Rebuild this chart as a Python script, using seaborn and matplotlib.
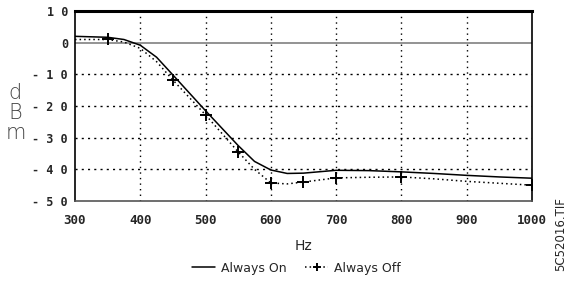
import numpy as np
import pandas as pd
import matplotlib
matplotlib.use("Agg")
import matplotlib.pyplot as plt
import seaborn as sns

# data
freq = [300, 350, 375, 400, 425, 450, 500, 550, 575, 600, 625, 650, 700, 750, 800, 850, 900, 950, 1000]
always_on = [2.0, 1.7, 1.0, -0.8, -4.6, -10.2, -21.5, -32.5, -37.5, -40.2, -41.3, -41.2, -40.3, -40.4, -40.8, -41.3, -41.9, -42.4, -42.8]
always_off = [1.0, 1.0, 0.2, -1.8, -6.0, -11.8, -22.8, -34.5, -40.0, -44.3, -44.6, -44.0, -42.7, -42.5, -42.4, -43.0, -43.8, -44.4, -45.0]
off_marks = [350, 450, 500, 550, 600, 650, 700, 800, 1000]
xticks = [300, 400, 500, 600, 700, 800, 900, 1000]
yticks = [10, 0, -10, -20, -30, -40, -50]

df = pd.DataFrame({'Hz': freq, 'on': always_on, 'off': always_off})

sns.set_style("white")
plt.rcParams['font.family'] = ['DejaVu Sans']

fig = plt.figure(figsize=(5.71, 2.82), dpi=100)
ax = fig.add_axes([0.1313, 0.2872, 0.8004, 0.6738])

# grid
for x in xticks[1:-1]:
    ax.axvline(x, color='black', linestyle=(0, (1, 3)), linewidth=1.0, zorder=1)
for y in [-10, -20, -30, -40]:
    ax.axhline(y, color='black', linestyle=(0, (1.5, 3)), linewidth=1.0, zorder=1)
ax.axhline(0, color='#808080', linewidth=1.2, zorder=1)

sns.lineplot(data=df, x='Hz', y='on', ax=ax, color='black', linewidth=1.1,
             label='Always On', zorder=3)
mark_idx = [freq.index(f) for f in off_marks]
sns.lineplot(data=df, x='Hz', y='off', ax=ax, color='black', linewidth=1.1,
             linestyle=(0, (1, 2)), marker='+', markersize=8, markeredgewidth=1.4,
             markeredgecolor='black', markerfacecolor='black',
             markevery=mark_idx, label='Always Off', zorder=3)

ax.set_xlim(300, 1000)
ax.set_ylim(-50, 10)
ax.set_xticks(xticks)
ax.set_yticks(yticks)
ax.set_xticklabels([str(v) for v in xticks], fontfamily='DejaVu Sans Mono',
                   fontweight='bold', fontsize=9)
ax.set_yticklabels([' '.join(str(v)) if v != 0 else '0' for v in yticks],
                   fontfamily='DejaVu Sans Mono', fontweight='bold', fontsize=8.5)
ax.tick_params(axis='x', length=0, pad=9)
ax.tick_params(axis='y', length=0, pad=5)

for side in ['left', 'right', 'bottom']:
    ax.spines[side].set_color('black')
    ax.spines[side].set_linewidth(1.2)
ax.spines['top'].set_color('black')
ax.spines['top'].set_linewidth(2.2)
ax.spines['bottom'].set_color('#555555')

ax.set_xlabel('Hz', fontsize=10, labelpad=9)
ax.set_ylabel('')
fig.text(0.027, 0.60, 'd\nB\nm', ha='center', va='center', fontsize=15,
         linespacing=1.0, color='#444444', fontweight='light')
fig.text(0.982, 0.17, '5C52016.TIF', rotation=90, ha='center', va='center',
         fontsize=8.5)

ax.legend(loc='upper center', bbox_to_anchor=(0.485, -0.26), ncol=2, frameon=False,
          fontsize=9, handlelength=1.8, columnspacing=1.5, handletextpad=0.5,
          markerscale=0.7)

plt.savefig('out.png', dpi=100)
